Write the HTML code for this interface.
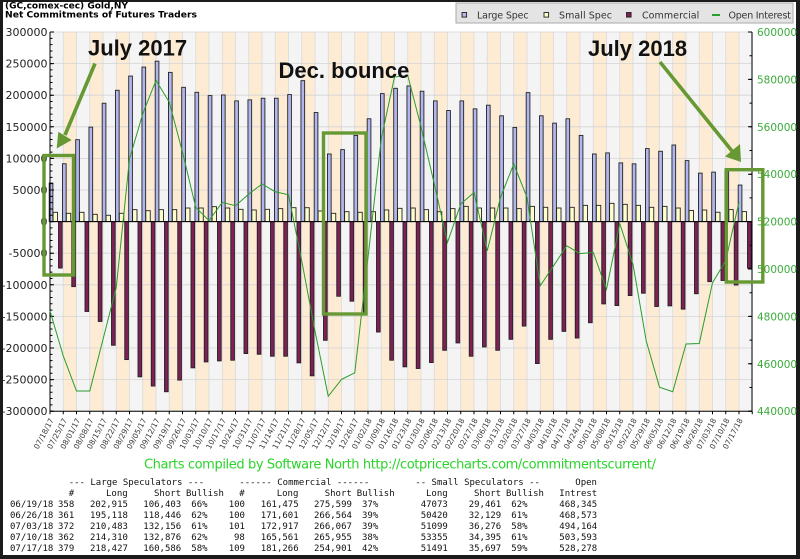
<!DOCTYPE html>
<html><head><meta charset="utf-8">
<style>
html,body{margin:0;padding:0;background:#1b1b1b;}
svg{display:block;}
.b{fill:#b2b6ee;stroke:#222;stroke-width:.9}
.s{fill:#ffffcc;stroke:#222;stroke-width:.9}
.c{fill:#7e1f55;stroke:#222;stroke-width:.9}
.yl{font-family:"DejaVu Sans",sans-serif;font-size:11px;fill:#222;text-anchor:end}
.yr{font-family:"DejaVu Sans",sans-serif;font-size:10.5px;fill:#3aaa3a}
.xl{font-family:"DejaVu Sans",sans-serif;font-size:7.5px;fill:#3a3a3a;text-anchor:end}
.ann{font-family:"Liberation Sans",Arial,sans-serif;font-weight:bold;font-size:22px;fill:#111}
.tb{font-family:"DejaVu Sans Mono","Liberation Mono",monospace;font-size:9px;fill:#111}
.lg{font-family:"DejaVu Sans",sans-serif;font-size:9.5px;fill:#333}
.ttl{font-family:"DejaVu Sans",sans-serif;font-weight:bold;font-size:8.5px;fill:#000}
</style></head>
<body>
<svg width="800" height="559" viewBox="0 0 800 559" xmlns="http://www.w3.org/2000/svg">
<rect x="3" y="2" width="793" height="553" fill="#fff"/>

<!-- title -->
<text class="ttl" x="5" y="8.5" textLength="123" lengthAdjust="spacingAndGlyphs">(GC,comex-cec) Gold,NY</text>
<text class="ttl" x="5" y="17.5" textLength="192" lengthAdjust="spacingAndGlyphs">Net Commitments of Futures Traders</text>

<!-- legend -->
<rect x="456" y="3" width="337" height="20" fill="#e4e4e4" stroke="#aaa" stroke-width="1"/>
<rect x="462" y="12.5" width="4.6" height="4.6" class="b"/>
<text class="lg" x="477" y="18.3" textLength="51.6">Large Spec</text>
<rect x="544" y="12.5" width="4.6" height="4.6" class="s"/>
<text class="lg" x="559" y="18.3" textLength="53">Small Spec</text>
<rect x="626.5" y="12.5" width="4.6" height="4.6" class="c"/>
<text class="lg" x="642" y="18.3" textLength="57.3">Commercial</text>
<line x1="712" y1="15" x2="720" y2="15" stroke="#2a9d2a" stroke-width="2"/>
<text class="lg" x="728.5" y="18.3" textLength="62.4">Open Interest</text>

<!-- plot background -->
<rect x="50" y="32" width="702" height="379.2" fill="#f4f4f4"/>
<line x1="63.25" y1="221.6" x2="739" y2="221.6" stroke="#fdebd4" stroke-width="379.2" stroke-dasharray="13.25 13.25"/>
<line x1="49.6" y1="221.6" x2="753" y2="221.6" stroke="#dadada" stroke-width="379.2" stroke-dasharray="0.8 12.45"/>
<line x1="401" y1="31.6" x2="401" y2="412" stroke="#d4d4d4" stroke-width="702" stroke-dasharray="0.8 30.8"/>

<!-- bars -->
<g transform="translate(50)"><rect class="b" x="-.8" y="183.05" width="3.7" height="38.55"/><rect class="s" x="3.1" y="212.31" width="4.4" height="9.29"/><rect class="c" x="8.5" y="221.6" width="3.7" height="46.45"/></g>
<g transform="translate(63.25)"><rect class="b" x="-.8" y="163.77" width="3.7" height="57.83"/><rect class="s" x="3.1" y="213.32" width="4.4" height="8.28"/><rect class="c" x="8.5" y="221.6" width="3.7" height="65.03"/></g>
<g transform="translate(76.5)"><rect class="b" x="-.8" y="139.69" width="3.7" height="81.91"/><rect class="s" x="3.1" y="212.31" width="4.4" height="9.29"/><rect class="c" x="8.5" y="221.6" width="3.7" height="89.87"/></g>
<g transform="translate(89.75)"><rect class="b" x="-.8" y="127.12" width="3.7" height="94.48"/><rect class="s" x="3.1" y="214.33" width="4.4" height="7.27"/><rect class="c" x="8.5" y="221.6" width="3.7" height="99.86"/></g>
<g transform="translate(103)"><rect class="b" x="-.8" y="103.23" width="3.7" height="118.37"/><rect class="s" x="3.1" y="215.28" width="4.4" height="6.32"/><rect class="c" x="8.5" y="221.6" width="3.7" height="123.68"/></g>
<g transform="translate(116.25)"><rect class="b" x="-.8" y="90.27" width="3.7" height="131.33"/><rect class="s" x="3.1" y="213.32" width="4.4" height="8.28"/><rect class="c" x="8.5" y="221.6" width="3.7" height="137.97"/></g>
<g transform="translate(129.5)"><rect class="b" x="-.8" y="76.05" width="3.7" height="145.55"/><rect class="s" x="3.1" y="209.66" width="4.4" height="11.94"/><rect class="c" x="8.5" y="221.6" width="3.7" height="155.22"/></g>
<g transform="translate(142.75)"><rect class="b" x="-.8" y="67.08" width="3.7" height="154.52"/><rect class="s" x="3.1" y="210.67" width="4.4" height="10.93"/><rect class="c" x="8.5" y="221.6" width="3.7" height="164.45"/></g>
<g transform="translate(156)"><rect class="b" x="-.8" y="61.14" width="3.7" height="160.46"/><rect class="s" x="3.1" y="209.66" width="4.4" height="11.94"/><rect class="c" x="8.5" y="221.6" width="3.7" height="170.13"/></g>
<g transform="translate(169.25)"><rect class="b" x="-.8" y="72.38" width="3.7" height="149.22"/><rect class="s" x="3.1" y="209.66" width="4.4" height="11.94"/><rect class="c" x="8.5" y="221.6" width="3.7" height="158.51"/></g>
<g transform="translate(182.5)"><rect class="b" x="-.8" y="87.3" width="3.7" height="134.3"/><rect class="s" x="3.1" y="208.01" width="4.4" height="13.59"/><rect class="c" x="8.5" y="221.6" width="3.7" height="146.24"/></g>
<g transform="translate(195.75)"><rect class="b" x="-.8" y="92.29" width="3.7" height="129.31"/><rect class="s" x="3.1" y="208.01" width="4.4" height="13.59"/><rect class="c" x="8.5" y="221.6" width="3.7" height="140.3"/></g>
<g transform="translate(209)"><rect class="b" x="-.8" y="95.58" width="3.7" height="126.02"/><rect class="s" x="3.1" y="206.68" width="4.4" height="14.92"/><rect class="c" x="8.5" y="221.6" width="3.7" height="139.29"/></g>
<g transform="translate(222.25)"><rect class="b" x="-.8" y="94.95" width="3.7" height="126.65"/><rect class="s" x="3.1" y="208.01" width="4.4" height="13.59"/><rect class="c" x="8.5" y="221.6" width="3.7" height="138.6"/></g>
<g transform="translate(235.5)"><rect class="b" x="-.8" y="100.89" width="3.7" height="120.71"/><rect class="s" x="3.1" y="209.34" width="4.4" height="12.26"/><rect class="c" x="8.5" y="221.6" width="3.7" height="131.96"/></g>
<g transform="translate(248.75)"><rect class="b" x="-.8" y="99.88" width="3.7" height="121.72"/><rect class="s" x="3.1" y="209.97" width="4.4" height="11.63"/><rect class="c" x="8.5" y="221.6" width="3.7" height="132.66"/></g>
<g transform="translate(262)"><rect class="b" x="-.8" y="98.23" width="3.7" height="123.37"/><rect class="s" x="3.1" y="209.34" width="4.4" height="12.26"/><rect class="c" x="8.5" y="221.6" width="3.7" height="134.62"/></g>
<g transform="translate(275.25)"><rect class="b" x="-.8" y="98.23" width="3.7" height="123.37"/><rect class="s" x="3.1" y="208.64" width="4.4" height="12.96"/><rect class="c" x="8.5" y="221.6" width="3.7" height="134.62"/></g>
<g transform="translate(288.5)"><rect class="b" x="-.8" y="94.57" width="3.7" height="127.03"/><rect class="s" x="3.1" y="207.7" width="4.4" height="13.9"/><rect class="c" x="8.5" y="221.6" width="3.7" height="141.25"/></g>
<g transform="translate(301.75)"><rect class="b" x="-.8" y="80.66" width="3.7" height="140.94"/><rect class="s" x="3.1" y="207.7" width="4.4" height="13.9"/><rect class="c" x="8.5" y="221.6" width="3.7" height="154.21"/></g>
<g transform="translate(315)"><rect class="b" x="-.8" y="112.52" width="3.7" height="109.08"/><rect class="s" x="3.1" y="210.98" width="4.4" height="10.62"/><rect class="c" x="8.5" y="221.6" width="3.7" height="118.69"/></g>
<g transform="translate(328.25)"><rect class="b" x="-.8" y="153.98" width="3.7" height="67.62"/><rect class="s" x="3.1" y="213.32" width="4.4" height="8.28"/><rect class="c" x="8.5" y="221.6" width="3.7" height="74.64"/></g>
<g transform="translate(341.5)"><rect class="b" x="-.8" y="149.62" width="3.7" height="71.98"/><rect class="s" x="3.1" y="211.68" width="4.4" height="9.92"/><rect class="c" x="8.5" y="221.6" width="3.7" height="79.57"/></g>
<g transform="translate(354.75)"><rect class="b" x="-.8" y="135.4" width="3.7" height="86.2"/><rect class="s" x="3.1" y="212.31" width="4.4" height="9.29"/><rect class="c" x="8.5" y="221.6" width="3.7" height="93.16"/></g>
<g transform="translate(368)"><rect class="b" x="-.8" y="118.77" width="3.7" height="102.83"/><rect class="s" x="3.1" y="211.68" width="4.4" height="9.92"/><rect class="c" x="8.5" y="221.6" width="3.7" height="110.41"/></g>
<g transform="translate(381.25)"><rect class="b" x="-.8" y="93.62" width="3.7" height="127.98"/><rect class="s" x="3.1" y="209.97" width="4.4" height="11.63"/><rect class="c" x="8.5" y="221.6" width="3.7" height="138.6"/></g>
<g transform="translate(394.5)"><rect class="b" x="-.8" y="88.31" width="3.7" height="133.29"/><rect class="s" x="3.1" y="208.33" width="4.4" height="13.27"/><rect class="c" x="8.5" y="221.6" width="3.7" height="145.23"/></g>
<g transform="translate(407.75)"><rect class="b" x="-.8" y="85.97" width="3.7" height="135.63"/><rect class="s" x="3.1" y="208.01" width="4.4" height="13.59"/><rect class="c" x="8.5" y="221.6" width="3.7" height="146.88"/></g>
<g transform="translate(421)"><rect class="b" x="-.8" y="91.22" width="3.7" height="130.38"/><rect class="s" x="3.1" y="209.66" width="4.4" height="11.94"/><rect class="c" x="8.5" y="221.6" width="3.7" height="140.94"/></g>
<g transform="translate(434.25)"><rect class="b" x="-.8" y="100.89" width="3.7" height="120.71"/><rect class="s" x="3.1" y="211.68" width="4.4" height="9.92"/><rect class="c" x="8.5" y="221.6" width="3.7" height="128.68"/></g>
<g transform="translate(447.5)"><rect class="b" x="-.8" y="110.49" width="3.7" height="111.11"/><rect class="s" x="3.1" y="208.64" width="4.4" height="12.96"/><rect class="c" x="8.5" y="221.6" width="3.7" height="121.34"/></g>
<g transform="translate(460.75)"><rect class="b" x="-.8" y="100.89" width="3.7" height="120.71"/><rect class="s" x="3.1" y="206.37" width="4.4" height="15.23"/><rect class="c" x="8.5" y="221.6" width="3.7" height="134.62"/></g>
<g transform="translate(474)"><rect class="b" x="-.8" y="108.85" width="3.7" height="112.75"/><rect class="s" x="3.1" y="208.01" width="4.4" height="13.59"/><rect class="c" x="8.5" y="221.6" width="3.7" height="125.33"/></g>
<g transform="translate(487.25)"><rect class="b" x="-.8" y="105.19" width="3.7" height="116.41"/><rect class="s" x="3.1" y="208.01" width="4.4" height="13.59"/><rect class="c" x="8.5" y="221.6" width="3.7" height="128.68"/></g>
<g transform="translate(500.5)"><rect class="b" x="-.8" y="115.8" width="3.7" height="105.8"/><rect class="s" x="3.1" y="208.01" width="4.4" height="13.59"/><rect class="c" x="8.5" y="221.6" width="3.7" height="117.74"/></g>
<g transform="translate(513.75)"><rect class="b" x="-.8" y="127.43" width="3.7" height="94.17"/><rect class="s" x="3.1" y="208.64" width="4.4" height="12.96"/><rect class="c" x="8.5" y="221.6" width="3.7" height="104.47"/></g>
<g transform="translate(527)"><rect class="b" x="-.8" y="92.61" width="3.7" height="128.99"/><rect class="s" x="3.1" y="206.37" width="4.4" height="15.23"/><rect class="c" x="8.5" y="221.6" width="3.7" height="141.95"/></g>
<g transform="translate(540.25)"><rect class="b" x="-.8" y="115.8" width="3.7" height="105.8"/><rect class="s" x="3.1" y="207.32" width="4.4" height="14.28"/><rect class="c" x="8.5" y="221.6" width="3.7" height="117.74"/></g>
<g transform="translate(553.5)"><rect class="b" x="-.8" y="123.13" width="3.7" height="98.47"/><rect class="s" x="3.1" y="208.01" width="4.4" height="13.59"/><rect class="c" x="8.5" y="221.6" width="3.7" height="109.78"/></g>
<g transform="translate(566.75)"><rect class="b" x="-.8" y="118.77" width="3.7" height="102.83"/><rect class="s" x="3.1" y="207.32" width="4.4" height="14.28"/><rect class="c" x="8.5" y="221.6" width="3.7" height="116.41"/></g>
<g transform="translate(580)"><rect class="b" x="-.8" y="135.4" width="3.7" height="86.2"/><rect class="s" x="3.1" y="205.36" width="4.4" height="16.24"/><rect class="c" x="8.5" y="221.6" width="3.7" height="101.12"/></g>
<g transform="translate(593.25)"><rect class="b" x="-.8" y="153.98" width="3.7" height="67.62"/><rect class="s" x="3.1" y="205.36" width="4.4" height="16.24"/><rect class="c" x="8.5" y="221.6" width="3.7" height="82.29"/></g>
<g transform="translate(606.5)"><rect class="b" x="-.8" y="152.9" width="3.7" height="68.7"/><rect class="s" x="3.1" y="203.34" width="4.4" height="18.26"/><rect class="c" x="8.5" y="221.6" width="3.7" height="83.93"/></g>
<g transform="translate(619.75)"><rect class="b" x="-.8" y="162.89" width="3.7" height="58.71"/><rect class="s" x="3.1" y="204.35" width="4.4" height="17.25"/><rect class="c" x="8.5" y="221.6" width="3.7" height="73.94"/></g>
<g transform="translate(633)"><rect class="b" x="-.8" y="163.84" width="3.7" height="57.76"/><rect class="s" x="3.1" y="205.36" width="4.4" height="16.24"/><rect class="c" x="8.5" y="221.6" width="3.7" height="71.61"/></g>
<g transform="translate(646.25)"><rect class="b" x="-.8" y="148.6" width="3.7" height="73"/><rect class="s" x="3.1" y="207.32" width="4.4" height="14.28"/><rect class="c" x="8.5" y="221.6" width="3.7" height="84.88"/></g>
<g transform="translate(659.5)"><rect class="b" x="-.8" y="151.26" width="3.7" height="70.34"/><rect class="s" x="3.1" y="206.37" width="4.4" height="15.23"/><rect class="c" x="8.5" y="221.6" width="3.7" height="84.25"/></g>
<g transform="translate(672.75)"><rect class="b" x="-.8" y="145" width="3.7" height="76.6"/><rect class="s" x="3.1" y="208.01" width="4.4" height="13.59"/><rect class="c" x="8.5" y="221.6" width="3.7" height="87.53"/></g>
<g transform="translate(686)"><rect class="b" x="-.8" y="160.6" width="3.7" height="61"/><rect class="s" x="3.1" y="210.47" width="4.4" height="11.13"/><rect class="c" x="8.5" y="221.6" width="3.7" height="72.13"/></g>
<g transform="translate(699.25)"><rect class="b" x="-.8" y="173.14" width="3.7" height="48.46"/><rect class="s" x="3.1" y="210.04" width="4.4" height="11.56"/><rect class="c" x="8.5" y="221.6" width="3.7" height="60.02"/></g>
<g transform="translate(712.5)"><rect class="b" x="-.8" y="172.1" width="3.7" height="49.5"/><rect class="s" x="3.1" y="212.23" width="4.4" height="9.37"/><rect class="c" x="8.5" y="221.6" width="3.7" height="58.87"/></g>
<g transform="translate(725.75)"><rect class="b" x="-.8" y="170.13" width="3.7" height="51.47"/><rect class="s" x="3.1" y="209.62" width="4.4" height="11.98"/><rect class="c" x="8.5" y="221.6" width="3.7" height="63.45"/></g>
<g transform="translate(739)"><rect class="b" x="-.8" y="185.04" width="3.7" height="36.56"/><rect class="s" x="3.1" y="211.62" width="4.4" height="9.98"/><rect class="c" x="8.5" y="221.6" width="3.7" height="46.54"/></g>

<!-- zero line and axes -->
<line x1="50" y1="221.6" x2="752" y2="221.6" stroke="#000" stroke-width="1"/>
<line x1="50" y1="32" x2="50" y2="411.7" stroke="#000" stroke-width="1"/>
<line x1="752" y1="32" x2="752" y2="411.7" stroke="#000" stroke-width="1"/>
<line x1="49.5" y1="411.2" x2="752.5" y2="411.2" stroke="#000" stroke-width="1"/>
<line x1="51.25" y1="31.5" x2="51.25" y2="412" stroke="#000" stroke-width="2.5" stroke-dasharray="1 5.32"/>
<line x1="52" y1="31.5" x2="52" y2="412" stroke="#000" stroke-width="4" stroke-dasharray="1 30.6"/>
<line x1="750.75" y1="31.5" x2="750.75" y2="412" stroke="#000" stroke-width="2.5" stroke-dasharray="1 22.7"/>
<line x1="750" y1="31.5" x2="750" y2="412" stroke="#000" stroke-width="4" stroke-dasharray="1 46.4"/>
<line x1="49.5" y1="412.7" x2="753" y2="412.7" stroke="#000" stroke-width="3" stroke-dasharray="1 12.25"/>

<!-- open interest line -->
<polyline fill="none" stroke="#2a9d2a" stroke-width="1" points="50,310.95 63.25,355.98 76.5,391.05 89.75,391.05 103,339.39 116.25,287.49 129.5,159.03 142.75,113.76 156,80.35 169.25,102.15 182.5,152.16 195.75,207.38 209,220.65 222.25,202.4 235.5,205.72 248.75,194.11 262,183.92 275.25,191.74 288.5,194.82 301.75,260.94 315,331.09 328.25,396.27 341.5,379.44 354.75,372.81 368,257.62 381.25,138.65 394.5,77.03 407.75,75.37 421,126.8 434.25,183.92 447.5,242.46 460.75,204.06 474,192.45 487.25,250.75 500.5,197.43 513.75,164.01 527,197.43 540.25,285.83 553.5,265.92 566.75,245.77 580,253.59 593.25,252.41 606.5,289.38 619.75,223.5 633,264.26 646.25,341.05 659.5,387.26 672.75,391.77 686,344.02 699.25,343.48 712.5,282.83 725.75,260.48 739,201.98"/>

<!-- left axis labels -->
<text class="yl" x="47.5" y="36">300000</text>
<text class="yl" x="47.5" y="67.6">250000</text>
<text class="yl" x="47.5" y="99.2">200000</text>
<text class="yl" x="47.5" y="130.8">150000</text>
<text class="yl" x="47.5" y="162.4">100000</text>
<text class="yl" x="47.5" y="194">50000</text>
<text class="yl" x="47.5" y="225.6">0</text>
<text class="yl" x="47.5" y="257.2">-50000</text>
<text class="yl" x="47.5" y="288.8">-100000</text>
<text class="yl" x="47.5" y="320.4">-150000</text>
<text class="yl" x="47.5" y="352">-200000</text>
<text class="yl" x="47.5" y="383.6">-250000</text>
<text class="yl" x="47.5" y="415.2">-300000</text>

<!-- right axis labels -->
<text class="yr" x="757" y="36">600000</text>
<text class="yr" x="757" y="83.4">580000</text>
<text class="yr" x="757" y="130.8">560000</text>
<text class="yr" x="757" y="178.2">540000</text>
<text class="yr" x="757" y="225.6">520000</text>
<text class="yr" x="757" y="273">500000</text>
<text class="yr" x="757" y="320.4">480000</text>
<text class="yr" x="757" y="367.8">460000</text>
<text class="yr" x="757" y="415.2">440000</text>

<!-- x labels -->
<text class="xl" transform="translate(54 420) rotate(-62)">07/18/17</text>
<text class="xl" transform="translate(67.25 420) rotate(-62)">07/25/17</text>
<text class="xl" transform="translate(80.5 420) rotate(-62)">08/01/17</text>
<text class="xl" transform="translate(93.75 420) rotate(-62)">08/08/17</text>
<text class="xl" transform="translate(107 420) rotate(-62)">08/15/17</text>
<text class="xl" transform="translate(120.25 420) rotate(-62)">08/22/17</text>
<text class="xl" transform="translate(133.5 420) rotate(-62)">08/29/17</text>
<text class="xl" transform="translate(146.75 420) rotate(-62)">09/05/17</text>
<text class="xl" transform="translate(160 420) rotate(-62)">09/12/17</text>
<text class="xl" transform="translate(173.25 420) rotate(-62)">09/19/17</text>
<text class="xl" transform="translate(186.5 420) rotate(-62)">09/26/17</text>
<text class="xl" transform="translate(199.75 420) rotate(-62)">10/03/17</text>
<text class="xl" transform="translate(213 420) rotate(-62)">10/10/17</text>
<text class="xl" transform="translate(226.25 420) rotate(-62)">10/17/17</text>
<text class="xl" transform="translate(239.5 420) rotate(-62)">10/24/17</text>
<text class="xl" transform="translate(252.75 420) rotate(-62)">10/31/17</text>
<text class="xl" transform="translate(266 420) rotate(-62)">11/07/17</text>
<text class="xl" transform="translate(279.25 420) rotate(-62)">11/14/17</text>
<text class="xl" transform="translate(292.5 420) rotate(-62)">11/21/17</text>
<text class="xl" transform="translate(305.75 420) rotate(-62)">11/28/17</text>
<text class="xl" transform="translate(319 420) rotate(-62)">12/05/17</text>
<text class="xl" transform="translate(332.25 420) rotate(-62)">12/12/17</text>
<text class="xl" transform="translate(345.5 420) rotate(-62)">12/19/17</text>
<text class="xl" transform="translate(358.75 420) rotate(-62)">12/26/17</text>
<text class="xl" transform="translate(372 420) rotate(-62)">01/02/18</text>
<text class="xl" transform="translate(385.25 420) rotate(-62)">01/09/18</text>
<text class="xl" transform="translate(398.5 420) rotate(-62)">01/16/18</text>
<text class="xl" transform="translate(411.75 420) rotate(-62)">01/23/18</text>
<text class="xl" transform="translate(425 420) rotate(-62)">01/30/18</text>
<text class="xl" transform="translate(438.25 420) rotate(-62)">02/06/18</text>
<text class="xl" transform="translate(451.5 420) rotate(-62)">02/13/18</text>
<text class="xl" transform="translate(464.75 420) rotate(-62)">02/20/18</text>
<text class="xl" transform="translate(478 420) rotate(-62)">02/27/18</text>
<text class="xl" transform="translate(491.25 420) rotate(-62)">03/06/18</text>
<text class="xl" transform="translate(504.5 420) rotate(-62)">03/13/18</text>
<text class="xl" transform="translate(517.75 420) rotate(-62)">03/20/18</text>
<text class="xl" transform="translate(531 420) rotate(-62)">03/27/18</text>
<text class="xl" transform="translate(544.25 420) rotate(-62)">04/03/18</text>
<text class="xl" transform="translate(557.5 420) rotate(-62)">04/10/18</text>
<text class="xl" transform="translate(570.75 420) rotate(-62)">04/17/18</text>
<text class="xl" transform="translate(584 420) rotate(-62)">04/24/18</text>
<text class="xl" transform="translate(597.25 420) rotate(-62)">05/01/18</text>
<text class="xl" transform="translate(610.5 420) rotate(-62)">05/08/18</text>
<text class="xl" transform="translate(623.75 420) rotate(-62)">05/15/18</text>
<text class="xl" transform="translate(637 420) rotate(-62)">05/22/18</text>
<text class="xl" transform="translate(650.25 420) rotate(-62)">05/29/18</text>
<text class="xl" transform="translate(663.5 420) rotate(-62)">06/05/18</text>
<text class="xl" transform="translate(676.75 420) rotate(-62)">06/12/18</text>
<text class="xl" transform="translate(690 420) rotate(-62)">06/19/18</text>
<text class="xl" transform="translate(703.25 420) rotate(-62)">06/26/18</text>
<text class="xl" transform="translate(716.5 420) rotate(-62)">07/03/18</text>
<text class="xl" transform="translate(729.75 420) rotate(-62)">07/10/18</text>
<text class="xl" transform="translate(743 420) rotate(-62)">07/17/18</text>

<!-- annotations -->
<g stroke="#669933" fill="none" stroke-width="3.4">
<rect x="44" y="155.5" width="29.5" height="119.5"/>
<rect x="323.5" y="133" width="42.5" height="181"/>
<rect x="726.3" y="169.7" width="36.5" height="112.3"/>
<line x1="95" y1="63.5" x2="65" y2="135" stroke-width="3.6"/>
<line x1="660" y1="62" x2="732" y2="151" stroke-width="3.6"/>
</g>
<polygon points="56.7,148.5 58.3,131.7 71.7,140" fill="#669933"/>
<polygon points="741,162 725,156.5 740,144" fill="#669933"/>
<text class="ann" x="88" y="55.7">July 2017</text>
<text class="ann" x="588" y="56">July 2018</text>
<text class="ann" x="278.5" y="78">Dec. bounce</text>

<!-- footer -->
<text x="144" y="468.5" font-family="DejaVu Sans, sans-serif" font-size="13" fill="#2ad42a" textLength="512">Charts compiled by Software North  http://cotpricecharts.com/commitmentscurrent/</text>

<g class="tb">
<text y="485"><tspan x="68.7">--- Large Speculators ---</tspan><tspan x="239.3">------ Commercial ------</tspan><tspan x="415.3">-- Small Speculators --</tspan><tspan x="575.3">Open</tspan></text>
<text y="495.9"><tspan x="68.7">#</tspan><tspan x="106">Long</tspan><tspan x="154">Short</tspan><tspan x="186">Bullish</tspan><tspan x="239.3">#</tspan><tspan x="276.7">Long</tspan><tspan x="324.7">Short</tspan><tspan x="356.7">Bullish</tspan><tspan x="426">Long</tspan><tspan x="474">Short</tspan><tspan x="506">Bullish</tspan><tspan x="559.3">Intrest</tspan></text>
<text y="506.8"><tspan x="10">06/19/18</tspan><tspan x="58">358</tspan><tspan x="90">202,915</tspan><tspan x="143.3">106,403</tspan><tspan x="191.3">66%</tspan><tspan x="228.7">100</tspan><tspan x="260.7">161,475</tspan><tspan x="314">275,599</tspan><tspan x="362">37%</tspan><tspan x="420.7">47073</tspan><tspan x="468.7">29,461</tspan><tspan x="511.3">62%</tspan><tspan x="559.3">468,345</tspan></text>
<text y="517.9"><tspan x="10">06/26/18</tspan><tspan x="58">361</tspan><tspan x="90">195,118</tspan><tspan x="143.3">118,446</tspan><tspan x="191.3">62%</tspan><tspan x="228.7">100</tspan><tspan x="260.7">171,601</tspan><tspan x="314">266,564</tspan><tspan x="362">39%</tspan><tspan x="420.7">50420</tspan><tspan x="468.7">32,129</tspan><tspan x="511.3">61%</tspan><tspan x="559.3">468,573</tspan></text>
<text y="529"><tspan x="10">07/03/18</tspan><tspan x="58">372</tspan><tspan x="90">210,483</tspan><tspan x="143.3">132,156</tspan><tspan x="191.3">61%</tspan><tspan x="228.7">101</tspan><tspan x="260.7">172,917</tspan><tspan x="314">266,067</tspan><tspan x="362">39%</tspan><tspan x="420.7">51099</tspan><tspan x="468.7">36,276</tspan><tspan x="511.3">58%</tspan><tspan x="559.3">494,164</tspan></text>
<text y="540.1"><tspan x="10">07/10/18</tspan><tspan x="58">362</tspan><tspan x="90">214,310</tspan><tspan x="143.3">132,876</tspan><tspan x="191.3">62%</tspan><tspan x="234">98</tspan><tspan x="260.7">165,561</tspan><tspan x="314">265,955</tspan><tspan x="362">38%</tspan><tspan x="420.7">53355</tspan><tspan x="468.7">34,395</tspan><tspan x="511.3">61%</tspan><tspan x="559.3">503,593</tspan></text>
<text y="551.2"><tspan x="10">07/17/18</tspan><tspan x="58">379</tspan><tspan x="90">218,427</tspan><tspan x="143.3">160,586</tspan><tspan x="191.3">58%</tspan><tspan x="228.7">109</tspan><tspan x="260.7">181,266</tspan><tspan x="314">254,901</tspan><tspan x="362">42%</tspan><tspan x="420.7">51491</tspan><tspan x="468.7">35,697</tspan><tspan x="511.3">59%</tspan><tspan x="559.3">528,278</tspan></text>
</g>
</svg>
</body></html>
